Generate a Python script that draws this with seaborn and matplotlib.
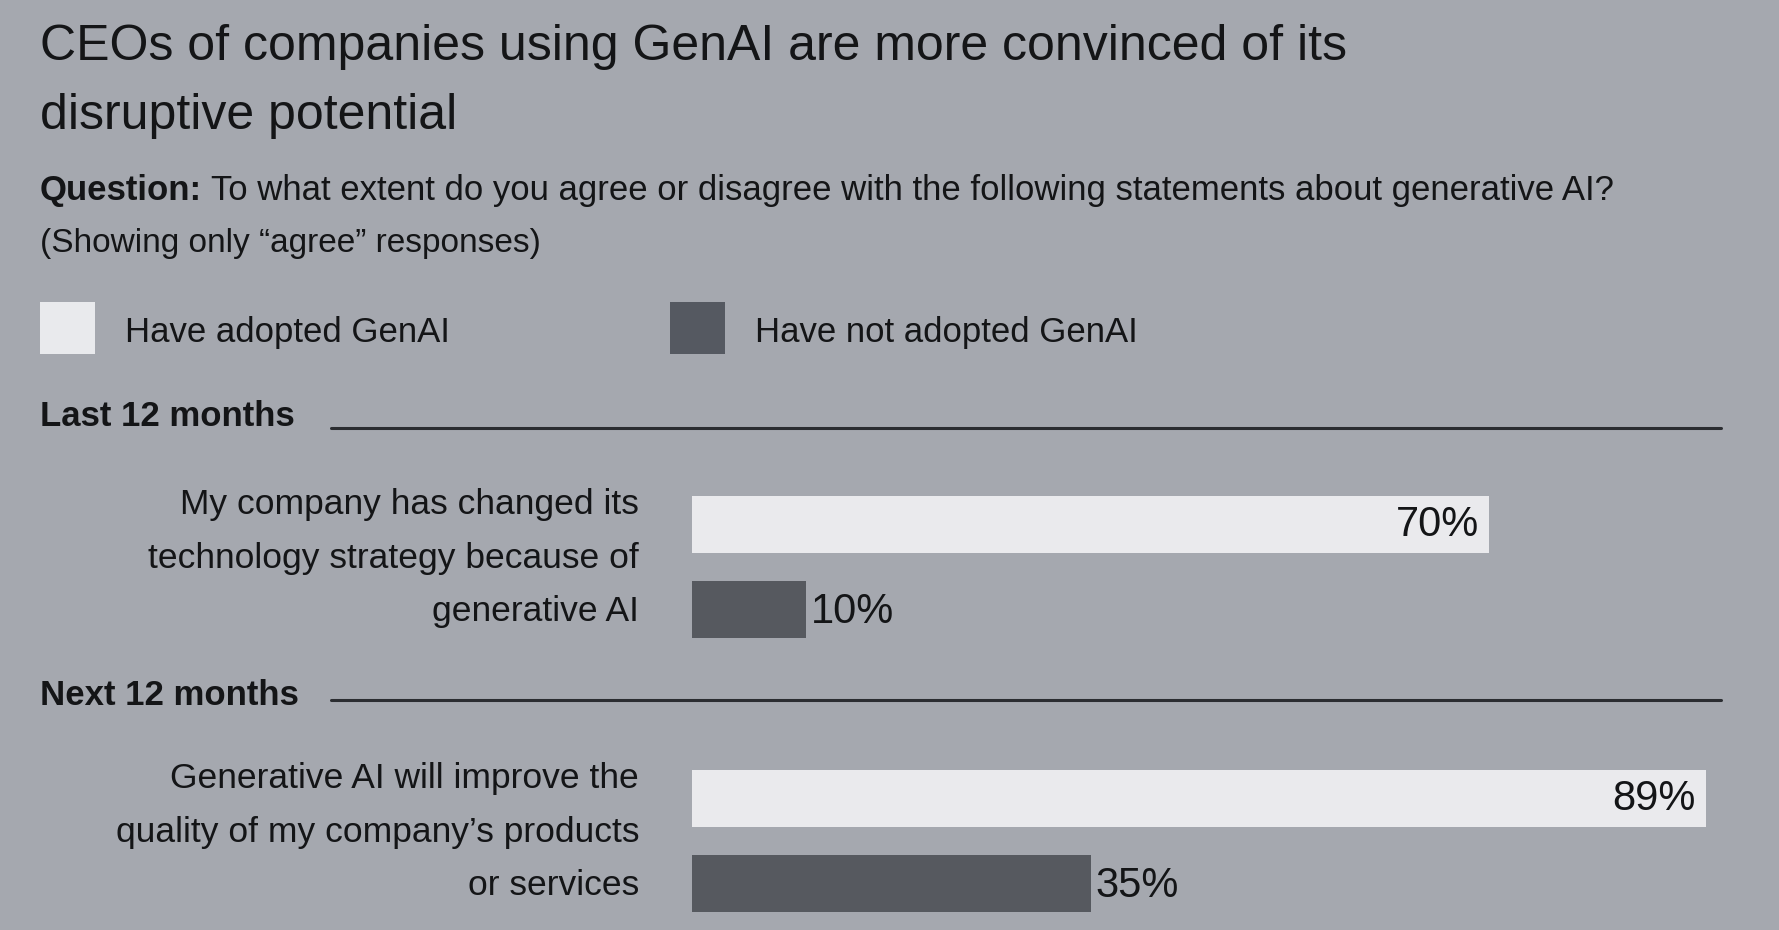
import matplotlib
matplotlib.use("Agg")
import matplotlib.pyplot as plt
import seaborn as sns
import pandas as pd
from matplotlib.patches import Rectangle
from matplotlib.lines import Line2D

# ---------------- data ----------------
title_lines = ["CEOs of companies using GenAI are more convinced of its",
               "disruptive potential"]
question_bold = "Question:"
question_text = " To what extent do you agree or disagree with the following statements about generative AI?"
note_text = "(Showing only \u201cagree\u201d responses)"
groups = ["Have adopted GenAI", "Have not adopted GenAI"]
sections = ["Last 12 months", "Next 12 months"]
statements = ["My company has changed its\ntechnology strategy because of\ngenerative AI",
              "Generative AI will improve the\nquality of my company\u2019s products\nor services"]
adopted = [70, 89]
not_adopted = [10, 35]

# ---------------- style ----------------
BG = "#a5a8af"
LIGHT = "#e9eaed"
DARK = "#555961"
TXT = "#141517"
RULE = "#2b2d31"

sns.set_theme(style="white")
plt.rcParams["font.family"] = ["Liberation Sans", "DejaVu Sans"]
plt.rcParams["text.color"] = TXT

W, H = 1779, 930
fig = plt.figure(figsize=(W / 100, H / 100), dpi=100, facecolor=BG)


def fx(px):
    return px / W


def fy(py):
    return 1 - py / H


# ---------------- titles ----------------
fig.text(fx(40), fy(60), title_lines[0], fontsize=36, va="baseline", ha="left", color=TXT)
fig.text(fx(40), fy(129), title_lines[1], fontsize=36, va="baseline", ha="left", color=TXT)

qb = fig.text(fx(40), fy(200), question_bold, fontsize=25, fontweight="bold",
              va="baseline", ha="left", color=TXT)
fig.canvas.draw()
bb = qb.get_window_extent(renderer=fig.canvas.get_renderer())
fig.text(bb.x1 / W, fy(200), question_text, fontsize=25, va="baseline", ha="left", color=TXT)
fig.text(fx(40), fy(252), note_text, fontsize=24, va="baseline", ha="left", color=TXT)

# ---------------- legend ----------------
leg_boxes = [(40, 302), (670, 302)]
leg_text_x = [125, 755]
for (bx, by), tx, col, lab in zip(leg_boxes, leg_text_x, [LIGHT, DARK], groups):
    fig.patches.append(Rectangle((fx(bx), fy(by + 52)), 55 / W, 52 / H,
                                 transform=fig.transFigure, facecolor=col,
                                 edgecolor="none"))
    fig.text(fx(tx), fy(342), lab, fontsize=25, va="baseline", ha="left", color=TXT)

# ---------------- sections ----------------
header_baselines = [425.5, 704.5]
rule_y = [428, 700]
for sec, yb, ry in zip(sections, header_baselines, rule_y):
    fig.text(fx(40), fy(yb), sec, fontsize=25, fontweight="bold", va="baseline",
             ha="left", color=TXT)
    fig.lines.append(Line2D([fx(331), fx(1721)], [fy(ry), fy(ry)],
                            transform=fig.transFigure, color=RULE, lw=2.2))

# ---------------- bars ----------------
px_per_pct = 11.39
ax_left, ax_right = 692, 1721
unit = 212.5  # pixels per category unit
centers = [567, 841]
extents = [(0.45, 0.45), (0.45, 0.42)]

for i in range(2):
    c = centers[i]
    up, down = extents[i]
    top = c - up * unit
    bottom = c + down * unit
    ax = fig.add_axes([fx(ax_left), fy(bottom), (ax_right - ax_left) / W, (bottom - top) / H])
    df = pd.DataFrame({"statement": [statements[i]] * 2,
                       "group": groups,
                       "value": [adopted[i], not_adopted[i]]})
    sns.barplot(data=df, y="statement", x="value", hue="group", hue_order=groups,
                palette=[LIGHT, DARK], orient="h", width=0.8, gap=0.33,
                linewidth=0, ax=ax, legend=False)
    ax.set_xlim(0, (ax_right - ax_left) / px_per_pct)
    ax.set_ylim(down, -up)
    ax.axis("off")
    ax.patch.set_alpha(0)

    # value labels
    for k, cont in enumerate(ax.containers):
        for bar in cont:
            v = bar.get_width()
            yc = bar.get_y() + bar.get_height() / 2
            if k == 0:
                ax.annotate(f"{v:.0f}%", xy=(v, yc), xytext=(-10, 0),
                            textcoords="offset pixels", ha="right", va="center",
                            fontsize=30, color=TXT)
            else:
                ax.annotate(f"{v:.0f}%", xy=(v, yc), xytext=(5, -2),
                            textcoords="offset pixels", ha="left", va="center",
                            fontsize=30, color=TXT)

    # category label
    ax.annotate(statements[i], xy=(0, 0), xycoords=("axes fraction", "data"),
                xytext=(-53, 9), textcoords="offset pixels", ha="right", va="center",
                fontsize=25.5, linespacing=1.8, color=TXT, annotation_clip=False)

fig.savefig("out.png", dpi=100, facecolor=BG)
